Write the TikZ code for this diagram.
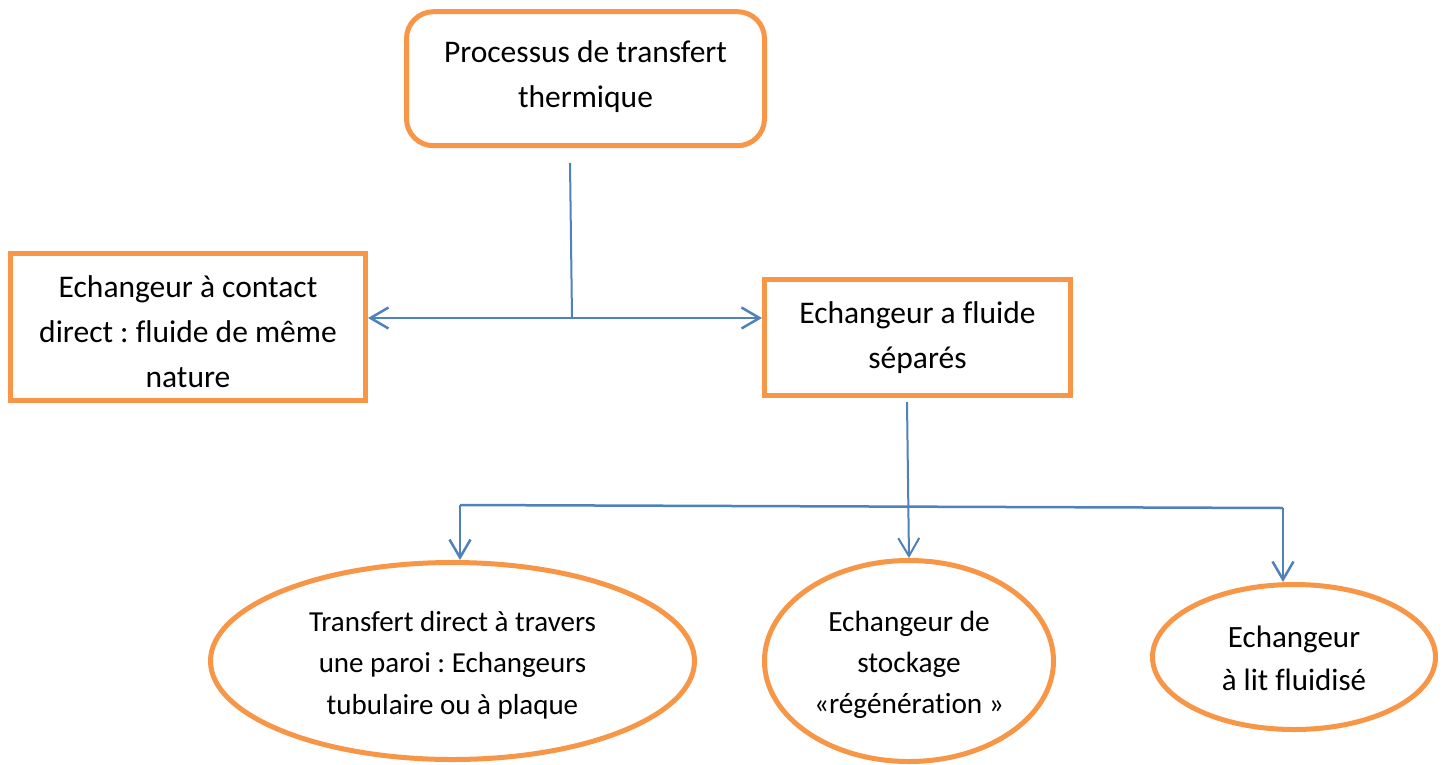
\documentclass[tikz,border=0pt]{standalone}
\usepackage{fontspec}
\setmainfont[Ligatures={NoCommon,NoRare}]{Carlito}
\usetikzlibrary{arrows.meta,shapes.geometric}
\definecolor{borange}{HTML}{F79646}
\definecolor{lblue}{HTML}{4F81BD}
\frenchspacing
\begin{document}
\begin{tikzpicture}[x=1pt,y=-1pt,
  boxstyle/.style={draw=borange,line width=5pt,rectangle,inner sep=0pt},
  ellstyle/.style={draw=borange,line width=5pt,ellipse,inner sep=0pt},
  txt/.style={inner sep=0pt,align=center,text=black},
  bigtxt/.style={txt,font=\fontsize{31.5}{45}\selectfont},
  conn/.style={draw=lblue,line width=2.5pt},
  arr/.style={conn,-{Straight Barb[length=18pt,width=21pt]}}]
\useasboundingbox (0,0) rectangle (1446,764);
% shapes
\node[boxstyle,rounded corners=27pt,minimum width=358pt,minimum height=134pt] (top) at (585.5,78.7) {};
\node[boxstyle,minimum width=355pt,minimum height=147pt] (lbox) at (188,327) {};
\node[boxstyle,minimum width=306pt,minimum height=116pt] (rbox) at (917.5,337.5) {};
\node[ellstyle,minimum width=484pt,minimum height=197pt] (lell) at (452.5,661) {};
\node[ellstyle,minimum width=289pt,minimum height=201pt] (mell) at (909,661) {};
\node[ellstyle,minimum width=283pt,minimum height=145pt] (rell) at (1294,657) {};
% texts
\node[bigtxt,yshift=2pt] (topt) at (top.center) {Processus de transfert\\thermique};
\node[bigtxt,yshift=-4.5pt] (lboxt) at (lbox.center) {Echangeur à contact\\direct : fluide de même\\nature};
\node[bigtxt] (rboxt) at (rbox.center) {Echangeur a fluide\\séparés};
\node[txt,font=\fontsize{29}{41.5}\selectfont,yshift=-4pt] (lellt) at (lell.center) {Transfert direct à travers\\une paroi : Echangeurs\\tubulaire ou à plaque};
\node[txt,font=\fontsize{29.3}{41}\selectfont,yshift=-3.5pt] (mellt) at (mell.center) {Echangeur de\\stockage\\«régénération »};
\node[txt,font=\fontsize{31}{43}\selectfont,yshift=-1.5pt] (rellt) at (rell.center) {Echangeur\\à lit fluidisé};
% connectors
\coordinate (t0) at (570,163);
\coordinate (j1) at (572,318);
\coordinate (r0) at (907,402);
\coordinate (h1) at (460,505);
\coordinate (h2) at (1283,508);
\draw[conn,line width=2pt] (t0) -- (j1);
\draw[arr] (j1) -- (lbox.east |- j1);
\draw[arr] (j1) -- (rbox.west |- j1);
\draw[arr,line width=2pt] (r0) -- (mell.north);
\draw[conn] (h1) -- (h2);
\draw[arr] (h2) -- (h2 |- rell.north);
\draw[arr] (h1) -- (h1 |- lell.north);
\end{tikzpicture}
\end{document}
